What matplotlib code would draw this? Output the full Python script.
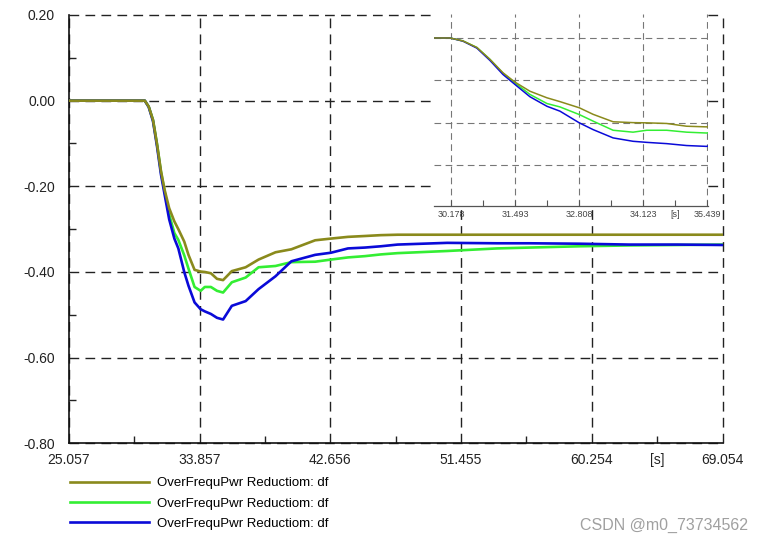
import matplotlib
matplotlib.use("Agg")
import matplotlib.pyplot as plt
import matplotlib.transforms as mtrans
from matplotlib.ticker import FixedLocator, FixedFormatter
from matplotlib.lines import Line2D

plt.rcParams['font.family'] = ['Liberation Sans', 'DejaVu Sans']

# ---------------- data ----------------
time_s = [25.057, 29.9, 30.16, 30.425, 30.712, 30.98, 31.247, 31.493, 31.801, 32.151,
          32.418, 32.815, 33.10, 33.51, 33.92, 34.20, 34.61, 35.02, 35.43, 36.02,
          36.95, 37.82, 38.96, 40.03, 41.63, 42.70, 43.84, 44.98, 46.05, 47.18,
          50.52, 53.87, 56.07, 59.42, 62.76, 66.0, 69.054]
df_olive = [0, 0, 0, -0.014, -0.045, -0.101, -0.164, -0.208, -0.251, -0.282,
            -0.300, -0.329, -0.360, -0.395, -0.399, -0.400, -0.403, -0.416, -0.419, -0.398,
            -0.389, -0.371, -0.354, -0.347, -0.326, -0.322, -0.318, -0.316, -0.314, -0.313,
            -0.313, -0.313, -0.313, -0.313, -0.313, -0.313, -0.313]
df_green = [0, 0, 0, -0.014, -0.045, -0.101, -0.166, -0.212, -0.266, -0.309,
            -0.325, -0.361, -0.392, -0.435, -0.444, -0.435, -0.435, -0.444, -0.448, -0.424,
            -0.413, -0.389, -0.386, -0.377, -0.376, -0.371, -0.366, -0.363, -0.359, -0.356,
            -0.351, -0.345, -0.343, -0.340, -0.338, -0.337, -0.336]
df_blue = [0, 0, 0, -0.015, -0.048, -0.106, -0.172, -0.219, -0.277, -0.322,
           -0.345, -0.400, -0.432, -0.471, -0.487, -0.492, -0.498, -0.507, -0.511, -0.479,
           -0.468, -0.440, -0.410, -0.375, -0.360, -0.355, -0.345, -0.343, -0.340, -0.336,
           -0.332, -0.333, -0.333, -0.334, -0.336, -0.336, -0.337]

series_labels = ["OverFrequPwr Reductiom: df"] * 3
series_colors = ["#8a8a1c", "#33ee33", "#0a0ad8"]

main_xticks = [25.057, 33.857, 42.656, 51.455, 60.254, 69.054]
main_xticklabels = ["25.057", "33.857", "42.656", "51.455", "60.254", "69.054"]
main_yticks = [0.20, 0.00, -0.20, -0.40, -0.60, -0.80]
main_yticklabels = ["0.20", "0.00", "-0.20", "-0.40", "-0.60", "-0.80"]

inset_xticks = [30.178, 31.493, 32.808, 34.123, 35.439]
inset_xticklabels = ["30.178", "31.493", "32.808", "34.123", "35.439"]
inset_ygrid = [0.0, -0.2, -0.4, -0.6]

# ---------------- figure ----------------
W, H = 763, 543
fig = plt.figure(figsize=(W / 100, H / 100), dpi=100)

def fx(px):
    return px / W

def fy(py):
    return 1 - py / H

series = [df_olive, df_green, df_blue]
draw_order = [1, 2, 0]  # green, blue, then olive on top

ax = fig.add_axes([fx(69), fy(443.3), fx(722.5) - fx(69), fy(15) - fy(443.3)])
for i in draw_order:
    ax.plot(time_s, series[i], color=series_colors[i], lw=1.9, zorder=3,
            solid_joinstyle='round')

ax.set_xlim(main_xticks[0], main_xticks[-1])
ax.set_ylim(-0.80, 0.20)
ax.xaxis.set_major_locator(FixedLocator(main_xticks))
ax.xaxis.set_major_formatter(FixedFormatter(main_xticklabels))
ax.yaxis.set_major_locator(FixedLocator(main_yticks))
ax.yaxis.set_major_formatter(FixedFormatter(main_yticklabels))
mx_minor = [(a + b) / 2 for a, b in zip(main_xticks[:-1], main_xticks[1:])]
my_minor = [(a + b) / 2 for a, b in zip(main_yticks[:-1], main_yticks[1:])]
ax.xaxis.set_minor_locator(FixedLocator(mx_minor))
ax.yaxis.set_minor_locator(FixedLocator(my_minor))
ax.tick_params(which='major', length=0, labelsize=10, colors='#222222')
ax.tick_params(axis='x', which='major', pad=7)
ax.tick_params(axis='y', which='major', pad=10)
ax.tick_params(which='minor', direction='in', length=5, width=1.0, color='#222222')
ax.grid(True, which='major', color='#222222', linestyle=(0, (7, 4.5)), lw=1.0)
for gl in ax.get_xgridlines() + ax.get_ygridlines():
    gl.set_clip_on(False)
for s in ['top', 'right']:
    ax.spines[s].set_visible(False)
for s in ['left', 'bottom']:
    ax.spines[s].set_color('#111111')
    ax.spines[s].set_linewidth(1.2)
ax.text(mx_minor[-1], -0.80, "[s]", ha='center', va='top', fontsize=10, color='#222222',
        transform=ax.transData + mtrans.ScaledTranslation(0, -7 / 72, fig.dpi_scale_trans))

# ---------------- inset ----------------
axi = fig.add_axes([fx(434), fy(206), fx(708) - fx(434), fy(14) - fy(206)])
axi.set_facecolor('white')
axi.set_zorder(5)
for i in draw_order:
    axi.plot(time_s, series[i], color=series_colors[i], lw=1.1, zorder=3)
axi.set_xlim(29.83, 35.46)
axi.set_ylim(-0.792, 0.113)
axi.xaxis.set_major_locator(FixedLocator(inset_xticks))
axi.xaxis.set_major_formatter(FixedFormatter(inset_xticklabels))
ix_minor = [(a + b) / 2 for a, b in zip(inset_xticks[:-1], inset_xticks[1:])]
axi.xaxis.set_minor_locator(FixedLocator(ix_minor))
axi.yaxis.set_major_locator(FixedLocator(inset_ygrid))
axi.tick_params(axis='y', which='both', length=0, labelleft=False)
axi.tick_params(axis='x', which='both', direction='in', length=4, width=0.8,
                color='#555555', labelsize=6.5, labelcolor='#444444', pad=3)
axi.grid(True, which='major', color='#777777', linestyle=(0, (6, 4)), lw=0.8)
for s in ['top', 'right', 'left']:
    axi.spines[s].set_visible(False)
axi.spines['bottom'].set_color('#555555')
axi.spines['bottom'].set_linewidth(0.9)
axi.text(ix_minor[-1], -0.792, "[s]", ha='center', va='top', fontsize=6.5, color='#444444',
         transform=axi.transData + mtrans.ScaledTranslation(0, -3 / 72, fig.dpi_scale_trans))

# ---------------- legend ----------------
handles = [Line2D([], [], color=c, lw=1.9) for c in series_colors]
fig.legend(handles, series_labels, loc='upper left',
           bbox_to_anchor=(fx(70), fy(477)), frameon=False, fontsize=9.5,
           handlelength=6.0, handletextpad=0.6, labelspacing=0.62,
           borderpad=0, borderaxespad=0)

# watermark
fig.text(fx(748), fy(525), "CSDN @m0_73734562", ha='right', va='center',
         fontsize=11.5, color='#a0a0a0')

fig.savefig("out.png", dpi=100, facecolor='white')
